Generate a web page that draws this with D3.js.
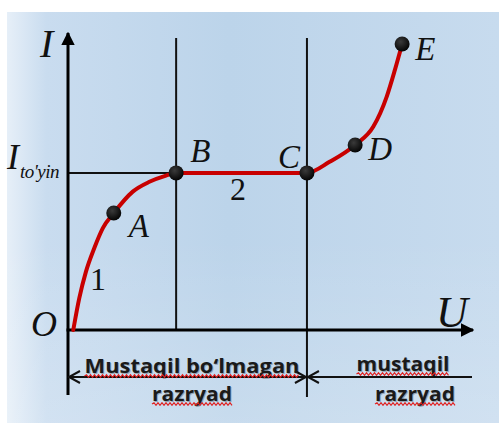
<!DOCTYPE html>
<html>
<head>
<meta charset="utf-8">
<script src="https://cdn.jsdelivr.net/npm/d3@7"></script>
<style>
  body { margin: 0; background: #fff; }
  svg { display: block; }
</style>
</head>
<body>
<svg id="chart" width="499" height="426"></svg>
<script>
// curve readings (U, I) in relative units 0..100
var curveU = [1.3, 2.8, 4.4, 6.5, 8.6, 11.3, 16.0, 20.1, 24.2, 26.7, 59.0, 64.7, 70.9, 75.4, 78.7, 80.7, 82.5];
var curveI = [0, 10.8, 19.5, 27.6, 34.3, 39.4, 46.6, 49.9, 52.0, 52.9, 52.9, 56.7, 62.3, 68.5, 78.6, 87.5, 96.3];

// marked points
var pointNames = ["A", "B", "C", "D", "E"];
var pointU = [11.3, 26.7, 59.0, 70.9, 82.5];
var pointI = [39.4, 52.9, 52.9, 62.3, 96.3];

var saturationI = 52.9;
var regionBounds = [0, 26.7, 59.0, 100];

var svg = d3.select("#chart"),
    width = +svg.attr("width"),
    height = +svg.attr("height");

var x = d3.scaleLinear().domain([0, 100]).range([68, 473]);
var y = d3.scaleLinear().domain([0, 100]).range([330, 33]);

var defs = svg.append("defs");
var grad = defs.append("linearGradient").attr("id", "bg").attr("x1", 0).attr("x2", 1).attr("y1", 0).attr("y2", 0);
grad.append("stop").attr("offset", "0%").attr("stop-color", "#e6eff8");
grad.append("stop").attr("offset", "8%").attr("stop-color", "#c9dcef");
grad.append("stop").attr("offset", "45%").attr("stop-color", "#bcd4ea");
grad.append("stop").attr("offset", "100%").attr("stop-color", "#c7dbee");

var grad2 = defs.append("linearGradient").attr("id", "bg2").attr("x1", 0).attr("x2", 0).attr("y1", 0).attr("y2", 1);
grad2.append("stop").attr("offset", "55%").attr("stop-color", "#ffffff").attr("stop-opacity", 0);
grad2.append("stop").attr("offset", "100%").attr("stop-color", "#ffffff").attr("stop-opacity", 0.18);

defs.append("marker").attr("id", "tri")
    .attr("viewBox", "0 0 10 10").attr("refX", 9).attr("refY", 5)
    .attr("markerWidth", 4.5).attr("markerHeight", 4.5).attr("markerUnits", "strokeWidth")
    .attr("orient", "auto")
  .append("path").attr("d", "M0,0 L10,5 L0,10 Z").attr("fill", "#000");

var dotGrad = defs.append("radialGradient").attr("id", "dot").attr("cx", "40%").attr("cy", "35%").attr("r", "65%");
dotGrad.append("stop").attr("offset", "0%").attr("stop-color", "#3a3a3a");
dotGrad.append("stop").attr("offset", "100%").attr("stop-color", "#050505");

svg.append("rect").attr("x", 7).attr("y", 12).attr("width", width - 7).attr("height", 411).attr("fill", "url(#bg)");
svg.append("rect").attr("x", 7).attr("y", 12).attr("width", width - 7).attr("height", 411).attr("fill", "url(#bg2)");

// region boundary verticals
svg.append("line")
    .attr("x1", x(regionBounds[1])).attr("x2", x(regionBounds[1]))
    .attr("y1", 38).attr("y2", y(0))
    .attr("stroke", "#111").attr("stroke-width", 2);
svg.append("line")
    .attr("x1", x(regionBounds[2])).attr("x2", x(regionBounds[2]))
    .attr("y1", 38).attr("y2", 397)
    .attr("stroke", "#111").attr("stroke-width", 2);

// saturation level line
svg.append("line")
    .attr("x1", x(0)).attr("x2", x(regionBounds[1]))
    .attr("y1", y(saturationI)).attr("y2", y(saturationI))
    .attr("stroke", "#111").attr("stroke-width", 2);

// axes
svg.append("line")
    .attr("x1", x(0)).attr("x2", x(0)).attr("y1", 395).attr("y2", y(100))
    .attr("stroke", "#000").attr("stroke-width", 3).attr("marker-end", "url(#tri)");
svg.append("line")
    .attr("x1", x(0) - 1.5).attr("x2", x(100)).attr("y1", y(0)).attr("y2", y(0))
    .attr("stroke", "#000").attr("stroke-width", 3).attr("marker-end", "url(#tri)");

// curve
var curveData = curveU.map(function (u, i) { return [u, curveI[i]]; });
var line = d3.line()
    .x(function (d) { return x(d[0]); })
    .y(function (d) { return y(d[1]); })
    .curve(d3.curveMonotoneX);
svg.append("path")
    .datum(curveData)
    .attr("d", line)
    .attr("fill", "none")
    .attr("stroke", "#c80000")
    .attr("stroke-width", 4)
    .attr("stroke-linecap", "round");

// points
var pts = pointNames.map(function (n, i) { return { name: n, u: pointU[i], i: pointI[i] }; });
svg.selectAll("circle.pt")
    .data(pts)
    .enter().append("circle")
    .attr("class", "pt")
    .attr("cx", function (d) { return x(d.u); })
    .attr("cy", function (d) { return y(d.i); })
    .attr("r", 7.5)
    .attr("fill", "url(#dot)");

// point labels
var labelOffset = { A: [15, 24], B: [14, -11], C: [-29, -5], D: [13, 15], E: [13, 16] };
svg.selectAll("text.pl")
    .data(pts)
    .enter().append("text")
    .attr("class", "pl")
    .attr("x", function (d) { return x(d.u) + labelOffset[d.name][0]; })
    .attr("y", function (d) { return y(d.i) + labelOffset[d.name][1]; })
    .attr("font-family", "Liberation Serif, serif")
    .attr("font-style", "italic")
    .attr("font-size", 33)
    .attr("fill", "#111")
    .text(function (d) { return d.name; });

var serif = "Liberation Serif, serif";
function label(t, px, py, size, italic) {
  return svg.append("text").attr("x", px).attr("y", py)
      .attr("font-family", serif).attr("font-size", size)
      .attr("font-style", italic ? "italic" : "normal")
      .attr("fill", "#111").text(t);
}
label("I", 40, 57, 40, true);
label("O", 31, 336, 36, true);
label("U", 436, 327, 44, true);
label("1", 90, 290, 32, false);
label("2", 230, 200, 32, false);
label("I", 7, 169, 36, true);
svg.append("text").attr("x", 20).attr("y", 178)
    .attr("font-family", serif).attr("font-size", 19).attr("font-style", "italic")
    .attr("letter-spacing", -0.5)
    .attr("fill", "#111").text("to'yin");

// region arrows
function chevron(px, py, dir) {
  svg.append("path")
      .attr("d", "M" + (px - dir * 11) + "," + (py - 6) + " L" + px + "," + py + " L" + (px - dir * 11) + "," + (py + 6))
      .attr("fill", "none").attr("stroke", "#111").attr("stroke-width", 2);
}
var arrowY = 377;
svg.append("line").attr("x1", x(regionBounds[0])).attr("x2", x(regionBounds[2]))
    .attr("y1", arrowY).attr("y2", arrowY).attr("stroke", "#111").attr("stroke-width", 2);
chevron(x(regionBounds[0]) + 1, arrowY, -1);
chevron(x(regionBounds[2]) - 1, arrowY, 1);
svg.append("line").attr("x1", x(regionBounds[2])).attr("x2", 472)
    .attr("y1", arrowY).attr("y2", arrowY).attr("stroke", "#111").attr("stroke-width", 2);
chevron(x(regionBounds[2]) + 1, arrowY, -1);

// region texts with spell-check wavy underline
function wavy(x0, x1, py) {
  var d = "M" + x0 + "," + py, up = true;
  for (var px = x0 + 2; px <= x1; px += 2) { d += " L" + px + "," + (py + (up ? -1.3 : 1.3)); up = !up; }
  svg.append("path").attr("d", d).attr("fill", "none").attr("stroke", "#e02020").attr("stroke-width", 1.2);
}
function regionText(t, cx, py, w) {
  svg.append("text").attr("x", cx - w / 2 + 1).attr("y", py + 1)
      .attr("font-family", "Open Sans, sans-serif")
      .attr("textLength", w).attr("lengthAdjust", "spacingAndGlyphs")
      .attr("font-weight", "bold").attr("font-size", 20).attr("fill", "#000").attr("opacity", 0.25).text(t);
  svg.append("text").attr("x", cx - w / 2).attr("y", py)
      .attr("font-family", "Open Sans, sans-serif")
      .attr("textLength", w).attr("lengthAdjust", "spacingAndGlyphs")
      .attr("font-weight", "bold").attr("font-size", 20).attr("fill", "#1a1a1a").text(t);
  wavy(cx - w / 2, cx + w / 2, py + 3);
}
regionText("Mustaqil bo‘lmagan", 192, 373, 215);
regionText("razryad", 192, 401, 80);
regionText("mustaqil", 403, 371, 93);
regionText("razryad", 415, 401, 80);
</script>
</body>
</html>
